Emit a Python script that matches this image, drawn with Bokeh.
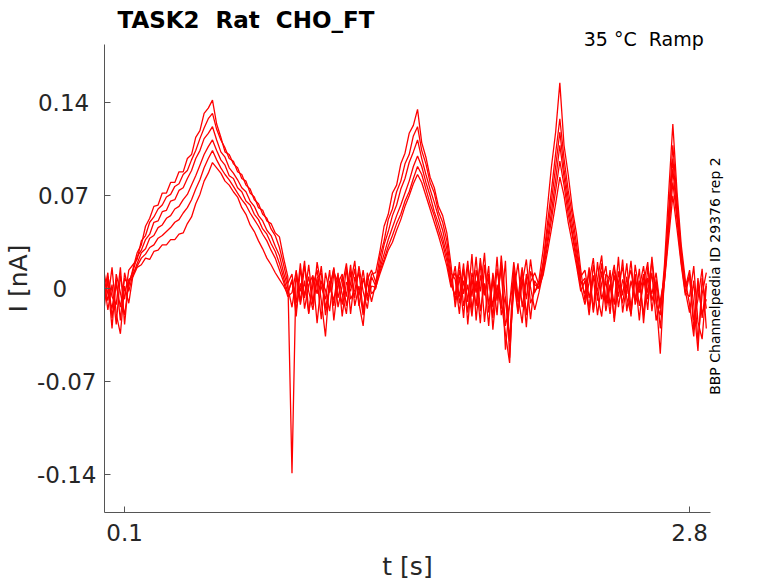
import math
import numpy as np
from bokeh.plotting import figure
from bokeh.models import FixedTicker, LinearAxis, Title
from bokeh.embed import file_html
from bokeh.resources import INLINE

# temps d'echantillonnage [s]
t = [0.00, 0.02, 0.04, 0.06, 0.08, 0.10, 0.12, 0.14, 0.16, 0.18,
     0.20, 0.22, 0.24, 0.26, 0.28, 0.30, 0.32, 0.34, 0.36, 0.38,
     0.40, 0.42, 0.44, 0.46, 0.48, 0.50, 0.52, 0.54, 0.56, 0.58,
     0.60, 0.62, 0.64, 0.66, 0.68, 0.70, 0.72, 0.74, 0.76, 0.78,
     0.80, 0.82, 0.84, 0.86, 0.88, 0.90, 0.92, 0.94, 0.96, 0.98,
     1.00, 1.02, 1.04, 1.06, 1.08, 1.10, 1.12, 1.14, 1.16, 1.18,
     1.20, 1.22, 1.24, 1.26, 1.28, 1.30, 1.32, 1.34, 1.36, 1.38,
     1.40, 1.42, 1.44, 1.46, 1.48, 1.50, 1.52, 1.54, 1.56, 1.58,
     1.60, 1.62, 1.64, 1.66, 1.68, 1.70, 1.72, 1.74, 1.76, 1.78,
     1.80, 1.82, 1.84, 1.86, 1.88, 1.90, 1.92, 1.94, 1.96, 1.98,
     2.00, 2.02, 2.04, 2.06, 2.08, 2.10, 2.12, 2.14, 2.16, 2.18,
     2.20, 2.22, 2.24, 2.26, 2.28, 2.30, 2.32, 2.34, 2.36, 2.38,
     2.40, 2.42, 2.44, 2.46, 2.48, 2.50, 2.52, 2.54, 2.56, 2.58,
     2.60, 2.62, 2.64, 2.66, 2.68, 2.70, 2.72, 2.74, 2.76, 2.78,
     2.80, 2.82, 2.84, 2.86, 2.88]

# courant mesure, en pA (6 repetitions)
rep1 = [-5, 12, -22, 4, -14, 8, 2,
        15, 27, 33, 47, 53, 62, 63, 72, 72, 80, 80, 88, 88, 98, 101, 114, 119, 132, 136, 142,
        124, 114, 103, 101, 94, 91, 83, 81, 72, 69, 61, 59, 51, 49, 42, 39, 23, 9,
        -139, 14, -12, 6, -19, 9, -4, 17, -15, 3, -9, 12, -21, 5, -2, 15, -13, 8, -6, 11,
        12, 28, 47, 56, 72, 78, 94, 102, 117, 123, 135,
        110, 99, 84, 76, 62, 55, 42, 18,
        -14, 9, -22, 18, -6, 24, -17, 4, -28, 12, -9, 20, -46, -11, 7, -19, 14, -8, 22, -3,
        6, 29, 60, 92, 118, 155,
        108, 86, 60, 41, 14,
        -9, 16, -18, 7, 25, -12, 3, -22, 13, -5, 19, -15, 8, -24, 11, -3, 21, -11, -20,
        18, 72, 124, 73, 33, 6,
        -12, -36, 8, -22, 4]
rep2 = [8, -16, 3, -27, 10, -8, 14,
        18, 22, 36, 40, 50, 54, 60, 63, 69, 71, 77, 79, 86, 89, 97, 104, 113, 121, 128, 132,
        120, 112, 106, 98, 96, 88, 86, 78, 75, 67, 64, 56, 53, 45, 40, 31, 18, 4,
        11, -16, 4, -7, 18, -11, 7, -23, 12, -3, 16, -14, 2, 19, -8, -1, 13, -17, 6, -10,
        4, 24, 36, 52, 60, 73, 81, 94, 101, 115, 122,
        104, 94, 80, 72, 58, 50, 36, 12,
        7, -19, 15, -10, 26, -24, 10, -5, 17, -31, 3, -15, 21, -52, 9, -7, 16, -20, 5, 12,
        3, 20, 48, 74, 102, 128,
        98, 74, 55, 33, 9,
        14, -7, 9, -20, 4, 17, -13, 10, -6, 22, -17, 6, -9, 15, -26, 8, -4, 12, -14,
        12, 58, 108, 66, 28, 2,
        9, -24, -8, 15, -30]
rep3 = [-12, 6, -30, 11, -3, -20, 5,
        13, 24, 29, 37, 41, 50, 51, 58, 59, 66, 67, 74, 76, 83, 89, 98, 104, 113, 117, 122,
        112, 103, 99, 91, 87, 82, 76, 73, 66, 62, 55, 51, 44, 40, 32, 25, 12, 1,
        -14, 8, -2, 21, -18, 3, 14, -9, -36, 6, -13, 10, -4, -19, 13, -7, 17, -2, -15, 9,
        2, 18, 33, 43, 55, 63, 75, 83, 95, 103, 112,
        98, 86, 75, 65, 54, 44, 30, 8,
        -9, 14, -4, 21, -16, 6, -26, 18, -12, 9, -20, 25, -8, -40, -2, 19, -14, 8, -23, 6,
        0, 18, 42, 66, 92, 118,
        90, 68, 48, 28, 6,
        -4, 12, -16, 20, -8, 6, -19, 15, 2, -11, 9, -21, 18, -3, 10, -16, 24, -7, -49,
        10, 52, 98, 60, 26, -2,
        -18, 6, -40, -4, 12]
rep4 = [3, -9, 16, -19, -34, 2, -11,
        10, 19, 27, 30, 38, 40, 46, 48, 53, 55, 60, 62, 67, 71, 78, 85, 93, 101, 107, 112,
        104, 97, 93, 85, 83, 76, 73, 66, 63, 56, 52, 45, 41, 34, 28, 19, 8, -3,
        6, -21, 15, -5, 9, -12, 20, 1, -8, 14, -24, 4, 11, -6, 18, -13, 2, -20, 12, -4,
        0, 15, 26, 37, 46, 55, 63, 72, 81, 92, 100,
        92, 80, 70, 58, 49, 38, 25, 5,
        12, -6, 19, -27, 8, -13, 23, -4, 11, -22, 15, -9, -34, -56, 13, -17, 4, 22, -11, -2,
        2, 15, 36, 58, 82, 108,
        84, 62, 42, 24, 4,
        8, -15, 18, -5, -21, 11, 7, -12, 24, -18, 3, 14, -8, 6, -20, 16, -9, 4, -30,
        6, 46, 90, 56, 24, 1,
        14, -12, -47, 8, -15]
rep5 = [14, -4, -15, 7, -24, 12, -2,
        11, 17, 23, 26, 31, 33, 38, 40, 43, 46, 50, 52, 57, 61, 67, 75, 82, 91, 98, 104,
        97, 91, 86, 82, 77, 72, 67, 63, 57, 52, 47, 41, 36, 29, 23, 14, 5, -6,
        -3, 13, -10, 17, -2, -16, 8, 12, -20, 1, 15, -7, 9, -13, 4, 21, -11, -28, 7, 14,
        5, 13, 22, 32, 40, 49, 56, 66, 73, 83, 92,
        86, 75, 64, 55, 44, 34, 21, 3,
        -5, 20, -13, 3, -21, 14, -2, 27, -18, 5, -7, 16, -28, -12, 20, -5, -26, 11, 1, -16,
        -3, 12, 32, 52, 74, 96,
        78, 56, 40, 20, 1,
        -12, 5, 23, -9, 13, -17, 2, 18, -14, 7, -4, 21, -12, 1, 17, -8, 12, -24, -9,
        8, 44, 80, 52, 20, -3,
        -6, 17, -25, -38, 2]
rep6 = [-18, 9, -6, -12, 16, -27, 7,
        9, 16, 18, 23, 22, 28, 29, 33, 33, 37, 37, 41, 42, 49, 54, 64, 71, 81, 87, 95,
        91, 87, 81, 78, 73, 69, 61, 56, 48, 43, 36, 30, 23, 18, 12, 7, 2, -4,
        7, -11, 19, -15, 3, 10, -26, 6, -1, -17, 12, 5, -12, 16, -19, 9, -5, 14, -9, 2,
        1, 11, 20, 29, 35, 44, 52, 62, 70, 79, 86,
        80, 70, 60, 50, 40, 29, 17, 1,
        17, -11, 6, -18, 12, -3, 19, -25, 8, -14, 24, -20, -6, -38, 15, -10, 7, -29, 13, 3,
        1, 10, 27, 45, 64, 84,
        70, 50, 34, 17, -2,
        6, -20, 10, -2, 19, -10, 14, -25, 5, 16, -7, -19, 11, -13, 4, 20, -17, 7, -15,
        5, 38, 70, 45, 18, -5,
        11, -31, 3, -19, -8]

x_ticks = [0.1, 2.8]
y_ticks = [-0.14, -0.07, 0, 0.07, 0.14]
y_tick_labels = ["-0.14", "-0.07", "0", "0.07", "0.14"]

# espaces doubles gardes en svg avec un espace insecable
titre = "TASK2\u00a0 Rat\u00a0 CHO_FT"
condition = "35 \u00b0C\u00a0 Ramp"
source_txt = "BBP Channelpedia ID 29376 rep 2"
source_y = -0.080   # debut du texte vertical (axe de droite)

FONT = "DejaVu Sans"
TXT = "#262626"
AXE = "#555555"

p = figure(width=778, height=583, x_range=(0.004, 2.90), y_range=(-0.1686, 0.1839),
           output_backend="svg", toolbar_location=None, title=None,
           min_border_left=104, min_border_right=68, min_border_top=44, min_border_bottom=71)
p.grid.visible = False
p.outline_line_color = None

for rep in [rep1, rep2, rep3, rep4, rep5, rep6]:
    p.line(t, np.array(rep) / 1000.0, line_color="#ff0000", line_width=1.3)

# titres (le plus proche du cadre en premier)
p.add_layout(Title(text=condition, align="right", offset=6.7, standoff=-11,
                   text_font=FONT, text_font_size="19px", text_font_style="normal",
                   text_color="#000000"), "above")
p.add_layout(Title(text=titre, align="left", offset=13, standoff=-3.5,
                   text_font=FONT, text_font_size="23px", text_font_style="bold",
                   text_color="#000000"), "above")

# axes facon matlab (ticks vers l'interieur)
for ax in [p.xaxis, p.yaxis]:
    ax.axis_line_color = AXE
    ax.major_tick_line_color = AXE
    ax.major_tick_in = 6
    ax.major_tick_out = 0
    ax.minor_tick_line_color = None
    ax.major_label_text_font = FONT
    ax.major_label_text_font_size = "23px"
    ax.major_label_text_color = TXT
    ax.axis_label_text_font = FONT
    ax.axis_label_text_font_size = "25px"
    ax.axis_label_text_font_style = "normal"
    ax.axis_label_text_color = TXT
p.xaxis.major_label_standoff = 11
p.xaxis.axis_label_standoff = 8
p.yaxis.major_label_standoff = 8
p.yaxis.axis_label_standoff = 1
p.xaxis.ticker = FixedTicker(ticks=x_ticks)
p.yaxis.ticker = FixedTicker(ticks=y_ticks)
# labels de gauche bourres a 5 caracteres, comme les char matlab
p.yaxis.major_label_overrides = {v: s + "\u00a0" * (5 - len(s)) for v, s in zip(y_ticks, y_tick_labels)}
p.xaxis.axis_label = "t [s]"
p.yaxis.axis_label = "I [nA]"

# texte vertical a droite
ax_r = LinearAxis(ticker=FixedTicker(ticks=[source_y]), major_label_overrides={source_y: source_txt},
                  major_label_orientation=math.pi / 2, axis_line_color=None,
                  major_tick_line_color=None, minor_tick_line_color=None,
                  major_tick_in=0, major_tick_out=0, major_label_standoff=5,
                  major_label_text_font=FONT, major_label_text_font_size="14px",
                  major_label_text_color="#000000")
p.add_layout(ax_r, "right")

open("out.html", "w").write(file_html(p, INLINE))
